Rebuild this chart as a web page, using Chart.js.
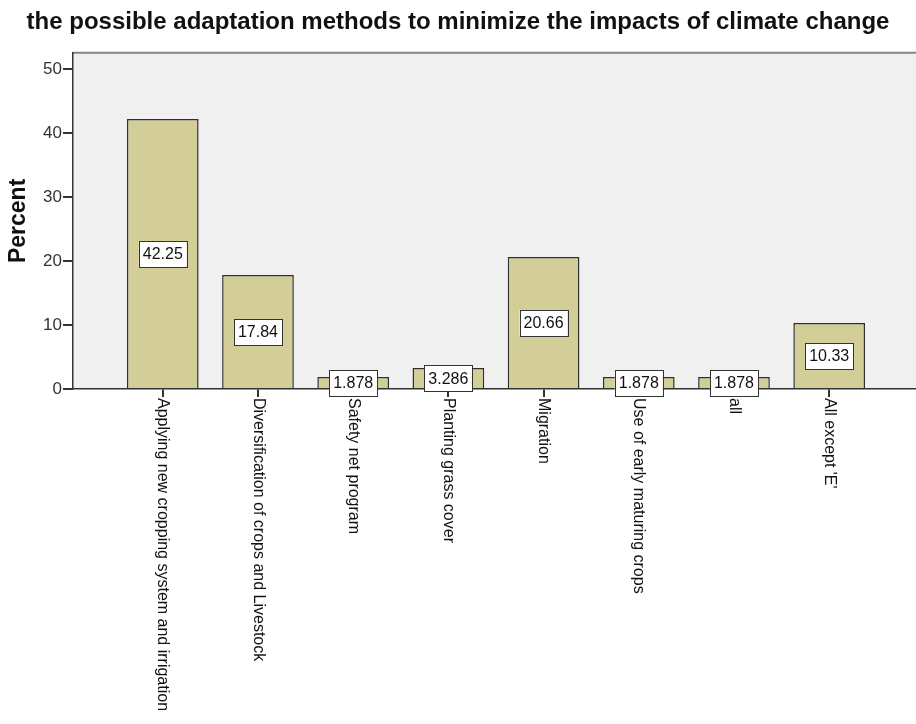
<!DOCTYPE html>
<html>
<head>
<meta charset="utf-8">
<script src="https://cdn.jsdelivr.net/npm/chart.js@4.4.1/dist/chart.umd.min.js"></script>
<style>
  html, body { margin: 0; padding: 0; background: #ffffff; }
  canvas { display: block; }
</style>
</head>
<body>
<canvas id="chart" width="916" height="724"></canvas>
<script>
// Survey responses: share of respondents naming each adaptation method
const categories = [
  "Applying new cropping system and irrigation",
  "Diversification of crops and Livestock",
  "Safety net program",
  "Planting grass cover",
  "Migration",
  "Use of early maturing crops",
  "all",
  "All except 'E'"
];
const percents = [42.25, 17.84, 1.878, 3.286, 20.66, 1.878, 1.878, 10.33];
const yTicks = [0, 10, 20, 30, 40, 50];

const FONT = "'Liberation Sans', Arial, Helvetica, sans-serif";

// Grey plot background with a heavier top frame line
const plotBackground = {
  id: 'plotBackground',
  beforeDraw(chart) {
    const { ctx, chartArea: a } = chart;
    ctx.save();
    ctx.fillStyle = '#f0f0f0';
    ctx.fillRect(a.left, a.top, a.right - a.left, a.bottom - a.top);
    ctx.strokeStyle = '#858585';
    ctx.lineWidth = 2;
    ctx.beginPath();
    ctx.moveTo(a.left, a.top);
    ctx.lineTo(a.right, a.top);
    ctx.stroke();
    ctx.restore();
  }
};

// Boxed value labels at the middle height of each bar
const valueBoxes = {
  id: 'valueBoxes',
  afterDatasetsDraw(chart) {
    const { ctx } = chart;
    const yScale = chart.scales.y;
    const meta = chart.getDatasetMeta(0);
    ctx.save();
    ctx.font = '16px ' + FONT;
    ctx.textAlign = 'center';
    ctx.textBaseline = 'middle';
    meta.data.forEach((bar, i) => {
      const v = percents[i];
      const text = v.toPrecision(4);
      const cx = bar.x;
      const cy = yScale.getPixelForValue(v / 2);
      const w = ctx.measureText(text).width + 8;
      const h = 26;
      ctx.fillStyle = '#ffffff';
      ctx.fillRect(cx - w / 2, cy - h / 2, w, h);
      ctx.strokeStyle = '#333333';
      ctx.lineWidth = 1;
      ctx.strokeRect(Math.round(cx - w / 2) + 0.5, Math.round(cy - h / 2) + 0.5, Math.round(w), h);
      ctx.fillStyle = '#111111';
      ctx.fillText(text, cx, cy + 1);
    });
    ctx.restore();
  }
};

// Category names written downward under each tick mark
const categoryLabels = {
  id: 'categoryLabels',
  afterDraw(chart) {
    const { ctx, chartArea: a } = chart;
    const xScale = chart.scales.x;
    ctx.save();
    ctx.font = '16px ' + FONT;
    ctx.fillStyle = '#111111';
    ctx.textAlign = 'left';
    ctx.textBaseline = 'middle';
    categories.forEach((name, i) => {
      const x = xScale.getPixelForValue(i);
      ctx.save();
      ctx.translate(x, a.bottom + 9);
      ctx.rotate(Math.PI / 2);
      ctx.fillText(name, 0, 0);
      ctx.restore();
    });
    ctx.restore();
  }
};

new Chart(document.getElementById('chart'), {
  type: 'bar',
  data: {
    datasets: [{
      data: percents.map((v, i) => ({ x: i, y: v })),
      backgroundColor: '#d3ce98',
      borderColor: '#2e2e2e',
      borderWidth: 1.5,
      categoryPercentage: 1,
      barPercentage: 0.753
    }]
  },
  options: {
    responsive: false,
    animation: false,
    devicePixelRatio: 1,
    layout: { padding: 0 },
    plugins: {
      legend: { display: false },
      tooltip: { enabled: false },
      title: {
        display: true,
        text: 'the possible adaptation methods to minimize the impacts of climate change',
        color: '#111111',
        font: { family: FONT, size: 24, weight: 'bold', lineHeight: 1.2 },
        padding: { top: 8, bottom: 16 }
      }
    },
    scales: {
      x: {
        type: 'linear',
        offset: false,
        min: -0.943,
        max: 7.912,
        afterBuildTicks(scale) {
          scale.ticks = categories.map((_, i) => ({ value: i }));
        },
        afterFit(scale) { scale.height = 335; },
        ticks: { display: false },
        grid: {
          offset: false,
          drawOnChartArea: false,
          drawTicks: true,
          tickLength: 8,
          lineWidth: 2,
          color: '#333333'
        },
        border: { color: '#333333', width: 1.5 }
      },
      y: {
        min: 0,
        max: 52.6,
        afterBuildTicks(scale) {
          scale.ticks = yTicks.map(v => ({ value: v }));
        },
        afterFit(scale) { scale.width = 73; },
        ticks: {
          color: '#333333',
          padding: 1,
          font: { family: FONT, size: 17 }
        },
        grid: {
          drawOnChartArea: false,
          drawTicks: true,
          tickLength: 10,
          lineWidth: 2,
          color: '#333333'
        },
        border: { color: '#333333', width: 1.5 },
        title: {
          display: true,
          text: 'Percent',
          color: '#111111',
          font: { family: FONT, size: 23, weight: 'bold', lineHeight: 1.2 },
          padding: { top: 5, bottom: 0 }
        }
      }
    }
  },
  plugins: [plotBackground, valueBoxes, categoryLabels]
});
</script>
</body>
</html>
